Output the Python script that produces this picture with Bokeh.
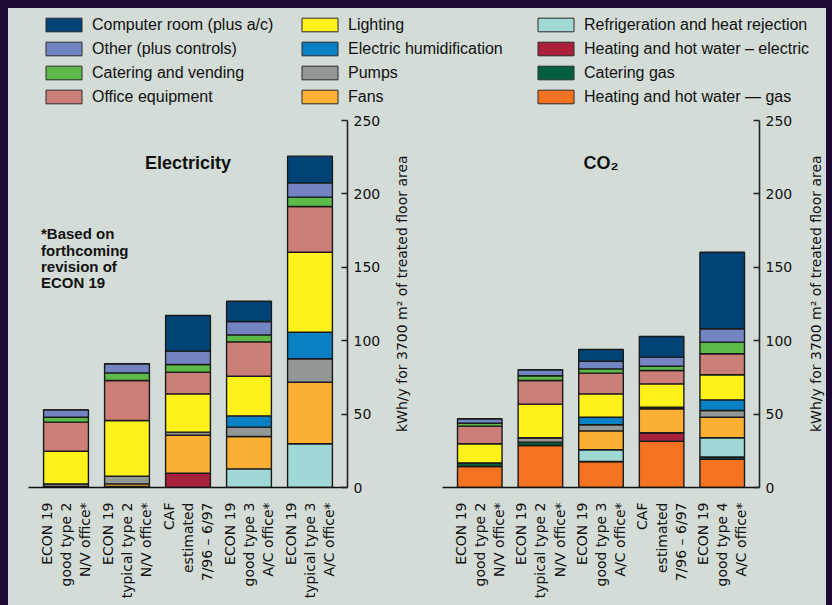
import math
from bokeh.plotting import figure
from bokeh.models import (ColumnDataSource, FactorRange, Range1d, Legend, LegendItem,
                          Label, FixedTicker, Div)
from bokeh.layouts import column, row
from bokeh.embed import file_html
from bokeh.resources import INLINE

BG = "#d3dcd7"
DARK = "#1c0a33"
EDGE = "#1a1a1a"

# stacking order, bottom to top
keys = ["heat_gas", "cat_gas", "heat_elec", "refrig", "fans", "pumps", "humid",
        "lighting", "office", "catering", "other", "computer"]
names = {
    "computer": "Computer room (plus a/c)",
    "other": "Other (plus controls)",
    "catering": "Catering and vending",
    "office": "Office equipment",
    "lighting": "Lighting",
    "humid": "Electric humidification",
    "pumps": "Pumps",
    "fans": "Fans",
    "refrig": "Refrigeration and heat rejection",
    "heat_elec": "Heating and hot water \u2013 electric",
    "cat_gas": "Catering gas",
    "heat_gas": "Heating and hot water \u2014 gas",
}
colors = {
    "computer": "#004477",
    "other": "#7384c3",
    "catering": "#5cba48",
    "office": "#cc7f78",
    "lighting": "#fff21b",
    "humid": "#0a7fc3",
    "pumps": "#939896",
    "fans": "#fbb034",
    "refrig": "#a0d8d6",
    "heat_elec": "#a8203c",
    "cat_gas": "#00603e",
    "heat_gas": "#f47321",
}
legend_columns = [
    ["computer", "other", "catering", "office"],
    ["lighting", "humid", "pumps", "fans"],
    ["refrig", "heat_elec", "cat_gas", "heat_gas"],
]

# ---- Electricity (kWh/y) ----
elec_categories = [
    "ECON 19\ngood type 2\nN/V office*",
    "ECON 19\ntypical type 2\nN/V office*",
    "CAF\nestimated\n7/96 \u2013 6/97",
    "ECON 19\ngood type 3\nA/C office*",
    "ECON 19\ntypical type 3\nA/C office*",
]
elec_heat_gas = [0, 0, 0, 0, 0]
elec_cat_gas = [0, 0, 0, 0, 0]
elec_heat_elec = [0, 0, 9.8, 0, 0]
elec_refrig = [0, 0.7, 0, 12.7, 29.8]
elec_fans = [0.7, 1.8, 25.8, 22.0, 41.9]
elec_pumps = [1.8, 5.2, 2.1, 6.4, 16.0]
elec_humid = [0, 0, 0, 7.7, 18.1]
elec_lighting = [22.2, 37.9, 26.1, 27.0, 54.5]
elec_office = [19.8, 27.3, 14.8, 23.4, 31.1]
elec_catering = [3.4, 5.2, 5.2, 4.8, 6.4]
elec_other = [5.0, 6.2, 9.1, 9.1, 9.7]
elec_computer = [0, 0, 24.3, 13.8, 18.2]

# ---- CO2 ----
co2_categories = [
    "ECON 19\ngood type 2\nN/V office*",
    "ECON 19\ntypical type 2\nN/V office*",
    "ECON 19\ngood type 3\nA/C office*",
    "CAF\nestimated\n7/96 \u2013 6/97",
    "ECON 19\ngood type 4\nA/C office*",
]
co2_heat_gas = [14.3, 28.6, 17.7, 31.5, 19.2]
co2_cat_gas = [2.5, 2.3, 0, 0, 1.6]
co2_heat_elec = [0, 0, 0, 5.8, 0]
co2_refrig = [0, 0, 8.0, 0, 13.1]
co2_fans = [0, 0, 12.9, 16.3, 14.0]
co2_pumps = [0, 3.0, 4.1, 1.1, 4.6]
co2_humid = [0, 0, 5.2, 0, 7.2]
co2_lighting = [13.0, 22.9, 15.9, 15.9, 17.1]
co2_office = [12.0, 16.1, 14.1, 9.1, 14.3]
co2_catering = [2.0, 3.2, 2.9, 2.9, 7.9]
co2_other = [3.0, 4.1, 5.2, 6.2, 9.1]
co2_computer = [0, 0, 8.0, 14.1, 52.2]

y_ticks = [0, 50, 100, 150, 200, 250]
y_label = "kWh/y for 3700 m\u00b2 of treated floor area"

elec_data = dict(heat_gas=elec_heat_gas, cat_gas=elec_cat_gas, heat_elec=elec_heat_elec,
                 refrig=elec_refrig, fans=elec_fans, pumps=elec_pumps, humid=elec_humid,
                 lighting=elec_lighting, office=elec_office, catering=elec_catering,
                 other=elec_other, computer=elec_computer)
co2_data = dict(heat_gas=co2_heat_gas, cat_gas=co2_cat_gas, heat_elec=co2_heat_elec,
                refrig=co2_refrig, fans=co2_fans, pumps=co2_pumps, humid=co2_humid,
                lighting=co2_lighting, office=co2_office, catering=co2_catering,
                other=co2_other, computer=co2_computer)

CH = 497  # chart figure height


def make_chart(cats, data, title, width, mbl, mbr):
    src = ColumnDataSource(dict(cat=cats, **data))
    p = figure(x_range=FactorRange(factors=cats, range_padding=0.115,
                                   range_padding_units="absolute"),
               y_range=Range1d(0, 250), width=width, height=CH,
               y_axis_location="right", output_backend="svg", toolbar_location=None,
               min_border_left=mbl, min_border_right=mbr, min_border_top=12,
               min_border_bottom=118, background_fill_color=BG, border_fill_color=BG,
               outline_line_color=None, styles={"background-color": BG})
    p.vbar_stack(keys, x="cat", width=0.735, source=src,
                 fill_color=[colors[k] for k in keys], line_color=EDGE, line_width=1.4)
    p.xgrid.visible = False
    p.ygrid.visible = False

    xa = p.xaxis[0]
    xa.major_label_orientation = math.pi / 2
    xa.major_label_text_font = "DejaVu Sans"
    xa.major_label_text_font_size = "14px"
    xa.major_label_text_color = "#111111"
    xa.major_label_standoff = 9
    xa.major_tick_line_color = None
    xa.minor_tick_line_color = None
    xa.axis_line_color = "#111111"
    xa.axis_line_width = 1.6

    ya = p.yaxis[0]
    ya.ticker = FixedTicker(ticks=y_ticks)
    ya.major_tick_in = 6
    ya.major_tick_out = 0
    ya.minor_tick_line_color = None
    ya.axis_line_color = "#222222"
    ya.axis_line_width = 1.6
    ya.major_tick_line_color = "#222222"
    ya.major_tick_line_width = 1.4
    ya.major_label_text_font = "DejaVu Sans"
    ya.major_label_text_font_size = "14px"
    ya.major_label_text_color = "#111111"
    ya.major_label_standoff = 6

    p.add_layout(Label(x=2.5, y=221, text=title, text_align="center",
                       text_baseline="alphabetic", text_font="Liberation Sans",
                       text_font_style="bold", text_font_size="18px", text_color="#111111"))
    return p


def make_ylabel_strip(width, cx):
    # narrow strip holding the axis title, reading bottom-to-top
    s = figure(width=width, height=CH, x_range=Range1d(0, width), y_range=Range1d(0, CH),
               output_backend="svg", toolbar_location=None, min_border=0,
               background_fill_color=BG, border_fill_color=BG, outline_line_color=None,
               styles={"background-color": BG})
    s.axis.visible = False
    s.grid.visible = False
    s.add_layout(Label(x=cx, y=262.5, text=y_label, angle=math.pi / 2,
                       text_align="center", text_baseline="middle",
                       text_font="DejaVu Sans", text_font_size="14px",
                       text_color="#111111"))
    return s


left = make_chart(elec_categories, elec_data, "Electricity", 375, 20, 36)
left.add_layout(Label(x=0.09, y=178.5, text="*Based on\nforthcoming\nrevision of\nECON 19",
                      text_align="left", text_baseline="top", text_font="Liberation Sans",
                      text_font_style="bold", text_font_size="15px", text_line_height=0.96,
                      text_color="#111111"))
left_lab = make_ylabel_strip(37, 18.7)
right = make_chart(co2_categories, co2_data, "CO\u2082", 375, 22, 36)
right_lab = make_ylabel_strip(31, 20)

# ---- legend strip (its bars lie outside the visible y range; only the key shows) ----
lf = figure(width=818, height=100, x_range=FactorRange(factors=elec_categories),
            y_range=Range1d(1000, 1001), output_backend="svg", toolbar_location=None,
            min_border=0, background_fill_color=BG, border_fill_color=BG,
            outline_line_color=None, styles={"background-color": BG})
lf.axis.visible = False
lf.grid.visible = False
lsrc = ColumnDataSource(dict(cat=elec_categories, **elec_data))
lrends = lf.vbar_stack(keys, x="cat", width=0.7, source=lsrc,
                       fill_color=[colors[k] for k in keys], line_color="#2a2a2a",
                       line_width=1)
rend_by_key = dict(zip(keys, lrends))

legend_x = [33, 289, 525]
for colkeys, vx in zip(legend_columns, legend_x):
    items = [LegendItem(label=names[k], renderers=[rend_by_key[k]]) for k in colkeys]
    leg = Legend(items=items, location=(vx, 2.5), orientation="vertical", padding=0,
                 margin=0, spacing=6, glyph_width=45, glyph_height=17, label_height=17,
                 label_standoff=6, label_text_font="Liberation Sans",
                 label_text_font_size="16px", label_text_color="#111111",
                 border_line_color=None, background_fill_alpha=0)
    lf.add_layout(leg, "center")

top_bar = Div(text="", width=832, height=8, margin=0, styles={"background-color": DARK})
left_bar = Div(text="", width=8, height=597, margin=0, styles={"background-color": DARK})
right_bar = Div(text="", width=6, height=597, margin=0, styles={"background-color": DARK})

layout = column(top_bar,
                row(left_bar,
                    column(lf, row(left, left_lab, right, right_lab)),
                    right_bar))

open("out.html", "w").write(file_html(layout, INLINE))
